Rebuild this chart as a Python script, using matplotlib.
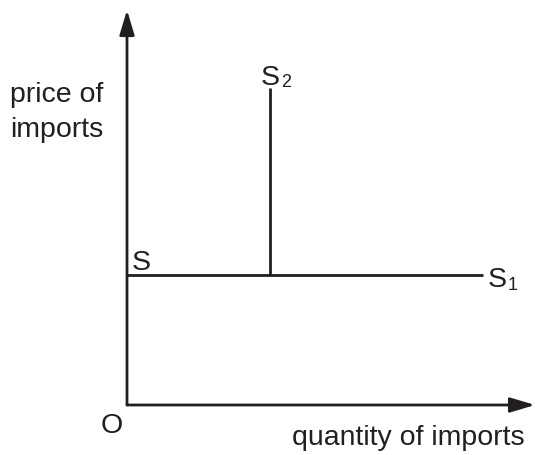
import matplotlib
matplotlib.use("Agg")
import matplotlib.pyplot as plt

plt.rcParams['font.family'] = ['Liberation Sans', 'DejaVu Sans']

# diagram in data units: origin at (0,0)
axis_x_end = 408   # quantity axis arrow tip
axis_y_end = 395   # price axis arrow tip
world_price = 130  # perfectly elastic supply S1
s1_end = 356
quota_qty = 143    # vertical supply S2
s2_top = 317

ink = '#231f20'
fig = plt.figure(figsize=(5.35, 4.55), dpi=100)
ax = fig.add_axes([0, 0, 1, 1])
ax.set_xlim(-127, 408)
ax.set_ylim(-50, 405)
ax.axis('off')

lw = 2.0
head = '-|>,head_length=1.5,head_width=0.45'
ax.annotate('', xy=(0, axis_y_end), xytext=(0, 0),
            arrowprops=dict(arrowstyle=head, lw=lw, color=ink, shrinkA=0, shrinkB=0))
ax.annotate('', xy=(axis_x_end, 0), xytext=(0, 0),
            arrowprops=dict(arrowstyle=head, lw=lw, color=ink, shrinkA=0, shrinkB=0))
ax.plot([0, s1_end], [world_price, world_price], color=ink, lw=lw, solid_capstyle='butt')
ax.plot([quota_qty, quota_qty], [world_price, s2_top], color=ink, lw=lw, solid_capstyle='butt')

fs = 20.5
sub = 13
ax.text(-117, 303, 'price of', fontsize=fs, ha='left', va='baseline', color=ink)
ax.text(-117, 268, 'imports', fontsize=fs, ha='left', va='baseline', color=ink)
ax.text(134, 320, 'S', fontsize=fs, ha='left', va='baseline', color=ink)
ax.text(154, 318, '2', fontsize=sub, ha='left', va='baseline', color=ink)
ax.text(5, 135, 'S', fontsize=fs, ha='left', va='baseline', color=ink)
ax.text(361, 118, 'S', fontsize=fs, ha='left', va='baseline', color=ink)
ax.text(381, 115, '1', fontsize=sub, ha='left', va='baseline', color=ink)
ax.text(-4, -28, 'O', fontsize=fs, ha='right', va='baseline', color=ink)
ax.text(398, -40, 'quantity of imports', fontsize=fs, ha='right', va='baseline', color=ink)

fig.savefig('out.png', dpi=100)
